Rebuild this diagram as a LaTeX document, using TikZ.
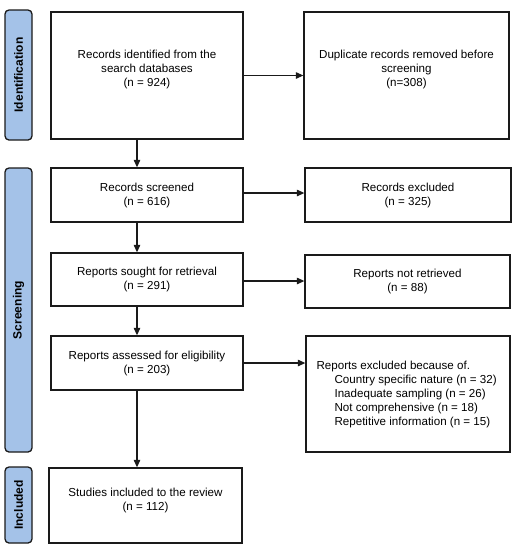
\documentclass[tikz,border=0pt]{standalone}
\usepackage{fontspec}
\setmainfont{Liberation Sans}
\usetikzlibrary{arrows.meta,calc}
\definecolor{stageblue}{HTML}{A4C2E8}
\definecolor{lineblack}{HTML}{1A1A1A}
\begin{document}
\begin{tikzpicture}[x=1pt,y=-1pt,
  every node/.style={font=\fontsize{11.6}{14}\selectfont},
  box/.style={draw=lineblack,line width=1.3pt,rectangle,inner sep=0pt},
  txt/.style={align=center,inner sep=0pt},
  stage/.style={draw=lineblack,line width=1.3pt,fill=stageblue,rounded corners=4pt,rotate=90,
    minimum height=27pt,inner sep=0pt,font=\fontsize{12}{14}\selectfont\bfseries},
  arr/.style={line width=1.1pt,draw=lineblack,-{Triangle[length=7.5pt,width=6.5pt]}}]
\useasboundingbox (0,0) rectangle (518,550);
% stage labels
\node[stage,minimum width=130pt] (sid) at (18.5,75) {Identification};
\node[stage,minimum width=284pt] (ssc) at (18.5,310) {Screening};
\node[stage,minimum width=76pt] (sin) at (18.5,505) {Included};
% boxes
\node[box,minimum width=192pt,minimum height=127pt] (b1) at (147,75.5) {};
\node[txt] at ($(b1)+(0,-6)$) {Records identified from the\\search databases\\(n = 924)};
\node[box,minimum width=205pt,minimum height=127pt] (b2) at (406.5,75.5) {};
\node[txt] at ($(b2)+(0,-6)$) {Duplicate records removed before\\screening\\(n=308)};
\node[box,minimum width=192pt,minimum height=54pt,txt] (b3) at (147,195) {Records screened\\(n = 616)};
\node[box,minimum width=206pt,minimum height=54pt,txt] (b4) at (408,195) {Records excluded\\(n = 325)};
\node[box,minimum width=192pt,minimum height=53pt,txt] (b5) at (147,279.5) {Reports sought for retrieval\\(n = 291)};
\node[box,minimum width=205pt,minimum height=53pt,txt] (b6) at (407.5,281.5) {Reports not retrieved\\(n = 88)};
\node[box,minimum width=192pt,minimum height=54pt,txt] (b7) at (147,363) {Reports assessed for eligibility\\(n = 203)};
\node[box,minimum width=204pt,minimum height=116pt] (b8) at (408,394) {};
\node[align=left,inner sep=0pt,anchor=west] at ($(b8.west)+(11,0)$) {Reports excluded because of.\\
\hspace*{18pt}Country specific nature (n = 32)\\
\hspace*{18pt}Inadequate sampling (n = 26)\\
\hspace*{18pt}Not comprehensive (n = 18)\\
\hspace*{18pt}Repetitive information (n = 15)};
\node[box,minimum width=193pt,minimum height=75pt] (b9) at (145.5,505.5) {};
\node[txt] at ($(b9)+(0,-5)$) {Studies included to the review\\(n = 112)};
% arrows
\coordinate (ax) at (137,0);
\draw[arr] (b1.south -| ax) -- (b3.north -| ax);
\draw[arr] (b3.south -| ax) -- (b5.north -| ax);
\draw[arr] (b5.south -| ax) -- (b7.north -| ax);
\draw[arr] (b7.south -| ax) -- (b9.north -| ax);
\draw[arr] (b1.east) -- (b1.east -| b2.west);
\draw[arr] (b3.east |- 0,193) -- (b4.west |- 0,193);
\draw[arr] (b5.east |- 0,281) -- (b6.west |- 0,281);
\draw[arr] (b7.east) -- (b7.east -| b8.west);
\end{tikzpicture}
\end{document}
